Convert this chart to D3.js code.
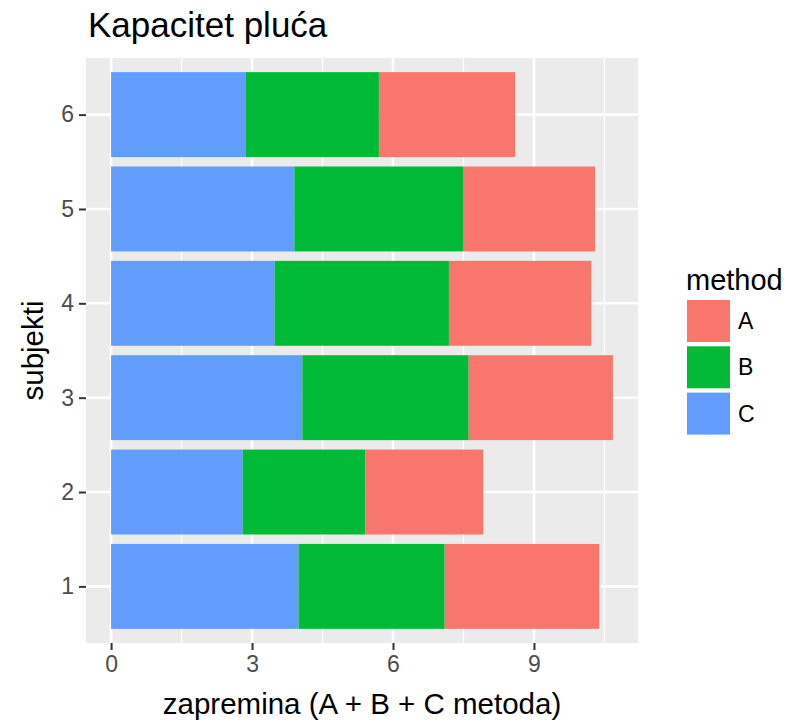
<!DOCTYPE html>
<html>
<head>
<meta charset="utf-8">
<script src="https://cdn.jsdelivr.net/npm/d3@7"></script>
<style>
    body { margin: 0; background: #fff; }
    text { font-family: "Liberation Sans", Arial, sans-serif; }
</style>
</head>
<body>
<svg id="chart" width="796" height="722"></svg>
<script>
// 数据
let subjects = ['1', '2', '3', '4', '5', '6'];
let methods = ['A', 'B', 'C'];
let valuesA = [3.29, 2.51, 3.07, 3.03, 2.81, 2.90];
let valuesB = [3.11, 2.61, 3.54, 3.71, 3.59, 2.83];
let valuesC = [3.99, 2.80, 4.07, 3.48, 3.90, 2.87];
let colors = ['#F8766D', '#00BA38', '#619CFF'];
let xTicks = [0, 3, 6, 9];

let svg = d3.select('#chart');
let panel = { left: 86, right: 638, top: 58, bottom: 643 };

// 按行组织数据, C 在最左边
let rows = subjects.map((s, i) => ({ subject: s, A: valuesA[i], B: valuesB[i], C: valuesC[i] }));
let stack = d3.stack().keys(['C', 'B', 'A'])(rows);
let maxTotal = d3.max(rows, d => d.A + d.B + d.C);

// 比例尺 (ggplot 默认 5% 扩展)
let x = d3.scaleLinear()
    .domain([-0.05 * maxTotal, maxTotal * 1.05])
    .range([panel.left, panel.right]);
let band = (panel.bottom - panel.top) / (subjects.length + 0.2);
let y = d3.scalePoint()
    .domain(subjects)
    .range([panel.bottom - 0.6 * band, panel.top + 0.6 * band]);
let color = d3.scaleOrdinal().domain(methods).range(colors);

// 面板背景
svg.append('rect')
    .attr('x', panel.left).attr('y', panel.top)
    .attr('width', panel.right - panel.left).attr('height', panel.bottom - panel.top)
    .attr('fill', '#EBEBEB');

// 网格线
let minor = xTicks.map(t => t + 1.5).filter(t => x(t) < panel.right);
svg.append('g').selectAll('line.minor').data(minor).enter().append('line')
    .attr('x1', d => x(d)).attr('x2', d => x(d))
    .attr('y1', panel.top).attr('y2', panel.bottom)
    .attr('stroke', '#fff').attr('stroke-width', 1.3);
svg.append('g').selectAll('line.major').data(xTicks).enter().append('line')
    .attr('x1', d => x(d)).attr('x2', d => x(d))
    .attr('y1', panel.top).attr('y2', panel.bottom)
    .attr('stroke', '#fff').attr('stroke-width', 2.6);
svg.append('g').selectAll('line.hmajor').data(subjects).enter().append('line')
    .attr('x1', panel.left).attr('x2', panel.right)
    .attr('y1', d => y(d)).attr('y2', d => y(d))
    .attr('stroke', '#fff').attr('stroke-width', 2.6);

// 堆叠条形
let barH = band * 0.9;
svg.append('g').selectAll('g.layer').data(stack).enter().append('g')
    .attr('fill', d => color(d.key))
    .selectAll('rect').data(d => d).enter().append('rect')
    .attr('x', d => x(d[0]))
    .attr('width', d => x(d[1]) - x(d[0]))
    .attr('y', d => y(d.data.subject) - barH / 2)
    .attr('height', barH);

// x 轴
let xAxis = svg.append('g')
    .attr('transform', 'translate(0,' + panel.bottom + ')')
    .call(d3.axisBottom(x).tickValues(xTicks).tickSize(7).tickPadding(6));
// y 轴
let yAxis = svg.append('g')
    .attr('transform', 'translate(' + panel.left + ',0)')
    .call(d3.axisLeft(y).tickSize(7).tickPadding(5));
[xAxis, yAxis].forEach(a => {
    a.select('.domain').remove();
    a.selectAll('line').attr('stroke', '#333').attr('stroke-width', 2);
    a.selectAll('text').attr('fill', '#4D4D4D')
        .style('font-size', '23px').style('font-family', '"Liberation Sans", Arial, sans-serif');
});

// 标题
svg.append('text').attr('x', 88).attr('y', 37)
    .style('font-size', '35px').text('Kapacitet pluća');
svg.append('text').attr('x', (panel.left + panel.right) / 2).attr('y', 714)
    .attr('text-anchor', 'middle').style('font-size', '29.5px')
    .text('zapremina (A + B + C metoda)');
svg.append('text')
    .attr('transform', 'translate(43,' + (panel.top + panel.bottom) / 2 + ') rotate(-90)')
    .attr('text-anchor', 'middle').style('font-size', '29.5px')
    .text('subjekti');

// 图例
let legend = svg.append('g').attr('transform', 'translate(687,0)');
legend.append('text').attr('x', -1).attr('y', 290)
    .style('font-size', '29px').text('method');
let item = legend.selectAll('g.item').data(methods).enter().append('g')
    .attr('transform', (d, i) => 'translate(0,' + (300 + i * 46.3) + ')');
item.append('rect').attr('width', 43).attr('height', 42)
    .attr('fill', d => color(d));
item.append('text').attr('x', 51).attr('y', 21).attr('dy', '0.35em')
    .style('font-size', '23px').text(d => d);
</script>
</body>
</html>
